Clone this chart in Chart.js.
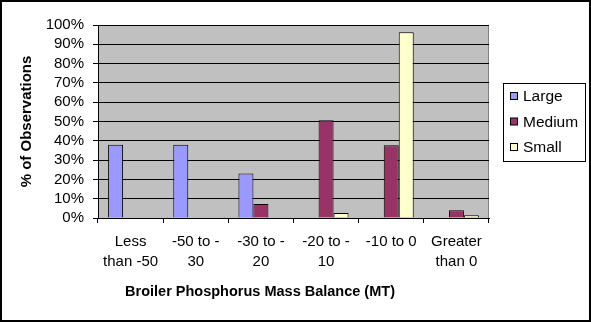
<!DOCTYPE html>
<html>
<head>
<meta charset="utf-8">
<script src="https://cdn.jsdelivr.net/npm/chart.js@4/dist/chart.umd.min.js"></script>
<style>
  html, body { margin: 0; padding: 0; background: #fff; }
  canvas { display: block; }
</style>
</head>
<body>
<canvas id="chart" width="591" height="322"></canvas>
<script>
// categories (multi-line labels as in the original)
const categories = [
    ['Less', 'than -50'],
    ['-50 to -', '30'],
    ['-30 to -', '20'],
    ['-20 to -', '10'],
    ['-10 to 0'],
    ['Greater', 'than 0']
];

// % of observations per size class
const largeValues = [38, 38, 23, 0, 0, 0];
const mediumValues = [0, 0, 7.3, 50.6, 37.7, 4];
const smallValues = [0, 0, 0, 2.6, 96.2, 1.4];

const seriesNames = ['Large', 'Medium', 'Small'];
const yTicks = [0, 10, 20, 30, 40, 50, 60, 70, 80, 90, 100];

const xTitle = 'Broiler Phosphorus Mass Balance (MT)';
const yTitle = '% of Observations';

// Background, frame, plot fill, x title and legend box
const decor = {
    id: 'decor',
    beforeDraw(chart) {
        const ctx = chart.ctx;
        const a = chart.chartArea;
        ctx.save();
        ctx.fillStyle = '#fff';
        ctx.fillRect(0, 0, chart.width, chart.height);
        ctx.fillStyle = '#c0c0c0';
        ctx.fillRect(a.left, a.top, a.right - a.left, a.bottom - a.top);
        ctx.strokeStyle = '#808080';
        ctx.lineWidth = 1;
        ctx.beginPath();
        ctx.moveTo(a.right - 0.5, a.top);
        ctx.lineTo(a.right - 0.5, a.bottom);
        ctx.stroke();
        ctx.restore();
    },
    afterDraw(chart) {
        const ctx = chart.ctx;
        ctx.save();
        // outer frame
        ctx.strokeStyle = '#000';
        ctx.lineWidth = 2;
        ctx.strokeRect(1, 1, chart.width - 2, chart.height - 2);

        // x axis title
        ctx.fillStyle = '#000';
        ctx.font = 'bold 14.5px Arial, "Liberation Sans", sans-serif';
        ctx.textAlign = 'center';
        ctx.textBaseline = 'middle';
        ctx.fillText(xTitle, 260, 292);

        // legend
        ctx.lineWidth = 1;
        ctx.strokeRect(503.5, 83.5, 82, 78);
        ctx.font = '15.5px Arial, "Liberation Sans", sans-serif';
        ctx.textAlign = 'left';
        chart.data.datasets.forEach((ds, i) => {
            const cy = 96 + i * 25.5;
            ctx.fillStyle = ds.backgroundColor;
            ctx.fillRect(510.5, cy - 3.5, 7, 7);
            ctx.strokeStyle = '#000';
            ctx.strokeRect(510.5, cy - 3.5, 7, 7);
            ctx.fillStyle = '#000';
            ctx.fillText(ds.label, 523, cy + 1);
        });
        ctx.restore();
    }
};

const tickFont = { family: 'Arial, "Liberation Sans", sans-serif', size: 15 };

new Chart(document.getElementById('chart'), {
    type: 'bar',
    data: {
        labels: categories,
        datasets: [
            { label: seriesNames[0], data: largeValues, backgroundColor: '#9999ff' },
            { label: seriesNames[1], data: mediumValues, backgroundColor: '#993366' },
            { label: seriesNames[2], data: smallValues, backgroundColor: '#ffffcc' }
        ].map(d => Object.assign(d, {
            borderColor: '#000',
            borderWidth: 1,
            categoryPercentage: 0.69,
            barPercentage: 1
        }))
    },
    options: {
        responsive: false,
        animation: false,
        layout: { padding: { left: 0, right: 102, top: 25, bottom: 0 } },
        plugins: {
            legend: { display: false },
            tooltip: { enabled: false }
        },
        scales: {
            x: {
                grid: {
                    drawOnChartArea: false,
                    drawTicks: true,
                    tickLength: 5,
                    color: '#000',
                    offset: true
                },
                border: { color: '#000', width: 1 },
                ticks: {
                    color: '#000',
                    font: Object.assign({ lineHeight: '20px' }, tickFont),
                    padding: 9,
                    maxRotation: 0,
                    autoSkip: false
                },
                afterFit(scale) { scale.height = 104; }
            },
            y: {
                min: 0,
                max: 100,
                afterBuildTicks(scale) {
                    scale.ticks = yTicks.map(v => ({ value: v }));
                },
                grid: {
                    color: '#000',
                    drawTicks: true,
                    tickLength: 5
                },
                border: { color: '#000', width: 1 },
                ticks: {
                    color: '#000',
                    font: tickFont,
                    padding: 9,
                    autoSkip: false,
                    callback: v => v + '%'
                },
                title: {
                    display: true,
                    text: yTitle,
                    color: '#000',
                    font: { family: 'Arial, "Liberation Sans", sans-serif', size: 15, weight: 'bold' },
                    padding: { top: 18, bottom: 0 }
                },
                afterFit(scale) { scale.width = 98; }
            }
        }
    },
    plugins: [decor]
});
</script>
</body>
</html>
